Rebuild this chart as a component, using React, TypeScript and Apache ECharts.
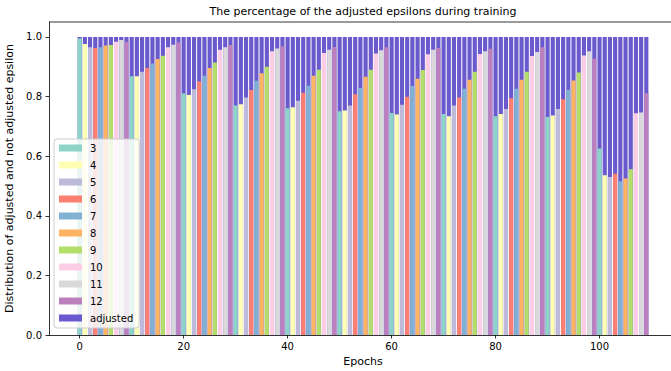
import React, { useEffect, useRef } from "react";
import * as echarts from "echarts";

const groupNames = ["3", "4", "5", "6", "7", "8", "9", "10", "11", "12"];
const groupColors = ["#8dd3c7", "#ffffb3", "#bebada", "#fb8072", "#80b1d3", "#fdb462", "#b3de69", "#fccde5", "#d9d9d9", "#bc80bd"];
const adjustedName = "adjusted";
const adjustedColor = "#6a5acd";

const epochs: number[] = Array.from({ length: 110 }, (_, i) => i);

// group label of each epoch's bar
const epochGroup: string[] = [
  "3","4","5","6","7","8","9","10","11","12",
  "3","4","5","6","7","8","9","10","11","12",
  "3","4","5","6","7","8","9","10","11","12",
  "3","4","5","6","7","8","9","10","11","12",
  "3","4","5","6","7","8","9","10","11","12",
  "3","4","5","6","7","8","9","10","11","12",
  "3","4","5","6","7","8","9","10","11","12",
  "3","4","5","6","7","8","9","10","11","12",
  "3","4","5","6","7","8","9","10","11","12",
  "3","4","5","6","7","8","9","10","11","12",
  "3","4","5","6","7","8","9","10","11","12",
];

// share of not-adjusted epsilons per epoch
const notAdjusted: number[] = [
  0.995, 0.976, 0.965, 0.963, 0.965, 0.971, 0.973, 0.984, 0.990, 0.984,
  0.868, 0.868, 0.883, 0.896, 0.911, 0.926, 0.937, 0.965, 0.974, 0.982,
  0.810, 0.805, 0.824, 0.850, 0.870, 0.896, 0.914, 0.957, 0.965, 0.973,
  0.770, 0.774, 0.797, 0.822, 0.853, 0.878, 0.900, 0.952, 0.961, 0.969,
  0.761, 0.764, 0.786, 0.813, 0.836, 0.870, 0.890, 0.946, 0.957, 0.966,
  0.751, 0.753, 0.770, 0.808, 0.829, 0.866, 0.890, 0.944, 0.955, 0.965,
  0.745, 0.740, 0.772, 0.799, 0.835, 0.860, 0.889, 0.942, 0.957, 0.963,
  0.741, 0.734, 0.770, 0.797, 0.826, 0.856, 0.883, 0.943, 0.952, 0.960,
  0.734, 0.741, 0.758, 0.794, 0.826, 0.856, 0.883, 0.936, 0.949, 0.965,
  0.731, 0.736, 0.758, 0.791, 0.822, 0.854, 0.881, 0.938, 0.952, 0.927,
  0.626, 0.536, 0.530, 0.541, 0.516, 0.525, 0.556, 0.744, 0.746, 0.811,
];

const xTicks = [0, 20, 40, 60, 80, 100];
const yTicks = [0, 0.2, 0.4, 0.6, 0.8, 1.0];

const FONT = "DejaVu Sans";

export default function App() {
  const ref = useRef<HTMLDivElement>(null);
  useEffect(() => {
    document.body.style.margin = "0";
    const chart = echarts.init(ref.current!, null, { renderer: "svg" });
    const barW = 4.16;
    // adjusted part sits on top of the not-adjusted part: its top is at
    // notAdjusted + adjusted; drawn first, the group bars are drawn over it
    const series: any[] = [
      {
        name: adjustedName,
        type: "bar",
        barWidth: barW,
        barGap: "-100%",
        itemStyle: { color: adjustedColor },
        data: epochs.map((e) => [e, notAdjusted[e] + (1 - notAdjusted[e])]),
      },
      ...groupNames.map((g, gi) => ({
        name: g,
        type: "bar",
        barWidth: barW,
        barGap: "-100%",
        itemStyle: { color: groupColors[gi] },
        data: epochs.filter((e) => epochGroup[e] === g).map((e) => [e, notAdjusted[e]]),
      })),
    ];
    const axisCommon = {
      axisLine: { show: true, onZero: false, lineStyle: { color: "#000", width: 0.8 } },
      axisTick: { show: true, length: 3.5, lineStyle: { color: "#000", width: 0.8 } },
      splitLine: { show: false },
      nameTextStyle: { fontFamily: FONT, fontSize: 11, color: "#000" },
    };
    chart.setOption({
      animation: false,
      textStyle: { fontFamily: FONT },
      title: {
        text: "The percentage of the adjusted epsilons during training",
        left: 358,
        top: 1,
        textAlign: "center",
        textStyle: { fontFamily: FONT, fontSize: 11, fontWeight: "normal", color: "#000" },
      },
      grid: { left: 49, top: 22, right: -6, bottom: 36, containLabel: false, outerBoundsMode: "none" },
      legend: {
        orient: "vertical",
        left: 54,
        top: 139,
        itemWidth: 23,
        itemHeight: 7,
        itemGap: 5,
        icon: "rect",
        padding: [3, 6, 4, 5],
        backgroundColor: "rgba(255,255,255,0.8)",
        borderColor: "#cccccc",
        borderWidth: 1,
        borderRadius: 3,
        z: 20,
        textStyle: { fontFamily: FONT, fontSize: 10, color: "#000", lineHeight: 12, padding: [0, 0, 0, 3] },
        data: [...groupNames, adjustedName],
      },
      xAxis: {
        type: "value",
        min: -5.9,
        max: 114.9,
        name: "Epochs",
        nameLocation: "middle",
        nameGap: 21,
        ...axisCommon,
        axisTick: { ...axisCommon.axisTick, customValues: xTicks },
        axisLabel: { customValues: xTicks, fontFamily: FONT, fontSize: 10, color: "#000", margin: 6 },
      },
      yAxis: {
        type: "value",
        min: 0,
        max: 1.05,
        name: "Distribution of adjusted and not adjusted epsilon",
        nameLocation: "middle",
        nameGap: 26,
        ...axisCommon,
        axisTick: { ...axisCommon.axisTick, customValues: yTicks },
        axisLabel: {
          customValues: yTicks,
          fontFamily: FONT,
          fontSize: 10,
          color: "#000",
          margin: 7,
          formatter: (v: number) => v.toFixed(1),
        },
      },
      graphic: [
        {
          type: "line",
          shape: { x1: 49, y1: 22, x2: 677, y2: 22 },
          style: { stroke: "#000", lineWidth: 0.8 },
          z: 10,
        },
      ],
      series,
    });
    return () => chart.dispose();
  }, []);
  return <div ref={ref} style={{ width: 671, height: 371 }} />;
}
